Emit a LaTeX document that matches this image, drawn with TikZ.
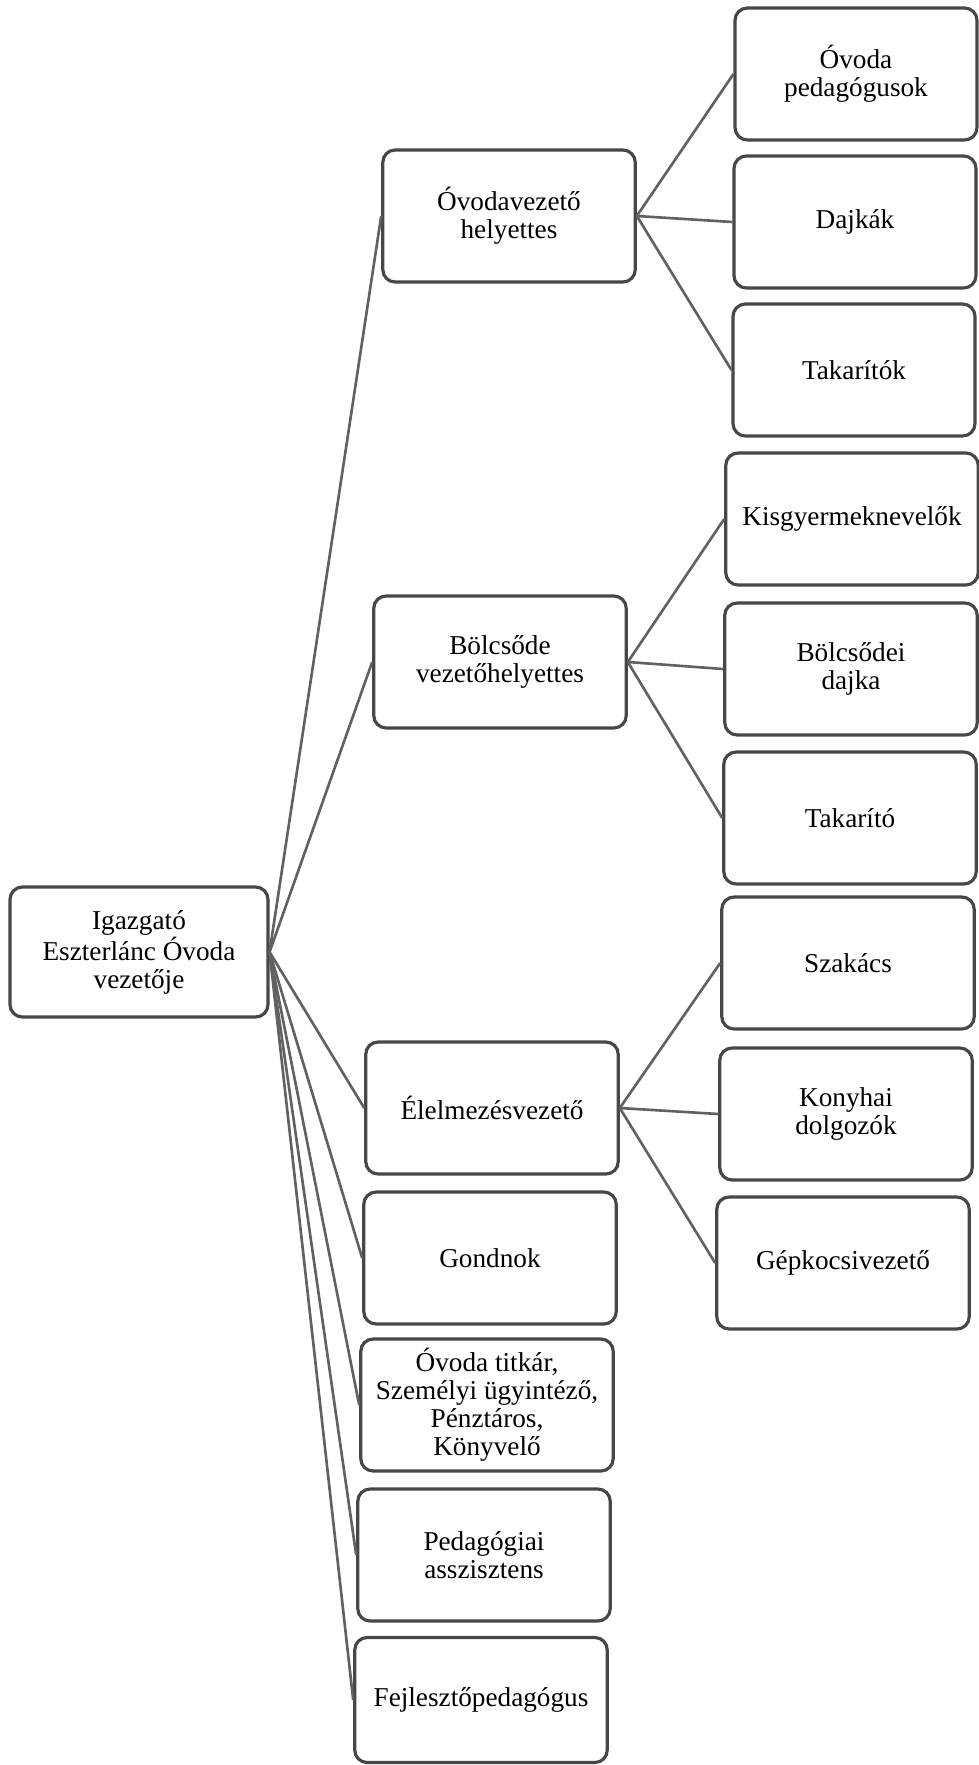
\documentclass[tikz,border=0pt]{standalone}
\usepackage{fontspec}
\setmainfont{Liberation Serif}

\begin{document}
\begin{tikzpicture}[x=0.02cm, y=-0.02cm,
	box/.style={draw=black!72, line width=1.8pt, rounded corners=7pt, fill=white, align=center,
		minimum width=5.05cm, minimum height=2.64cm, inner sep=2pt,
		font=\fontsize{15.5}{16}\selectfont},
	conn/.style={draw=black!62, line width=1.5pt}]
	%\draw[help lines] (0,0) grid[step=100] (979,1765);
	\useasboundingbox (0,0) rectangle (979,1765);
	% connectors first, boxes on top
	\coordinate (c0) at (0,0);
	% left
	\node[box, minimum width=5.16cm, minimum height=2.6cm] (igaz) at (139,952) {Igazgató\\Eszterlánc Óvoda\\vezetője};
	% middle column
	\node[box] (ovh) at (509,216) {Óvodavezető\\helyettes};
	\node[box] (bvh) at (500,662) {Bölcsőde\\vezetőhelyettes};
	\node[box] (elv) at (492,1108) {Élelmezésvezető};
	\node[box] (gon) at (490,1258) {Gondnok};
	\node[box] (tit) at (487,1405) {Óvoda titkár,\\Személyi ügyintéző,\\Pénztáros,\\Könyvelő};
	\node[box] (ped) at (484,1555) {Pedagógiai\\asszisztens};
	\node[box, minimum height=2.5cm] (fej) at (481,1700) {Fejlesztőpedagógus};
	% right column
	\node[box, minimum width=4.84cm] (opd) at (856,74) {Óvoda\\pedagógusok};
	\node[box, minimum width=4.84cm] (daj) at (855,222) {Dajkák};
	\node[box, minimum width=4.84cm] (tak) at (854,370) {Takarítók};
	\node[box] (kis) at (852,519) {Kisgyermeknevelők};
	\node[box] (bdj) at (851,669) {Bölcsődei\\dajka};
	\node[box] (tko) at (850,818) {Takarító};
	\node[box] (sza) at (848,963) {Szakács};
	\node[box] (kon) at (846,1114) {Konyhai\\dolgozók};
	\node[box] (gep) at (843,1263) {Gépkocsivezető};

	\foreach \m in {ovh,bvh,elv,gon,tit,ped,fej}
		\draw[conn] (igaz.east) -- (\m.west);
	\foreach \c in {opd,daj,tak}
		\draw[conn] (ovh.east) -- (\c.west);
	\foreach \c in {kis,bdj,tko}
		\draw[conn] (bvh.east) -- (\c.west);
	\foreach \c in {sza,kon,gep}
		\draw[conn] (elv.east) -- (\c.west);
\end{tikzpicture}
\end{document}
